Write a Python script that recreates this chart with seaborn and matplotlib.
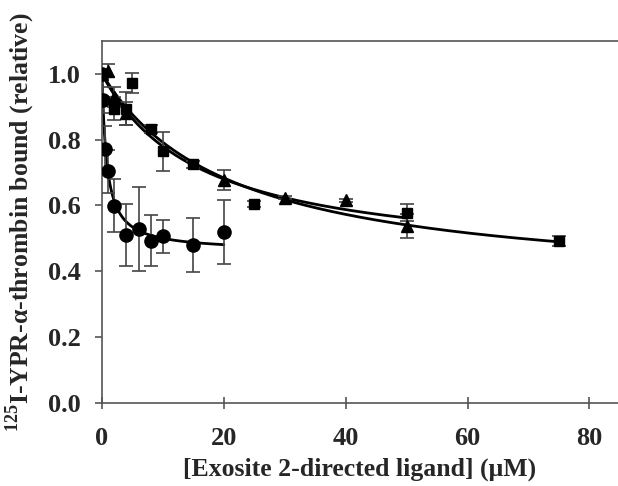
import matplotlib
matplotlib.use("Agg")
import matplotlib.pyplot as plt
import seaborn as sns
import numpy as np
import pandas as pd

# circles
circ_x = [0, 0.1, 0.5, 1, 2, 4, 6, 8, 10, 15, 20]
circ_y = [1.0, 0.92, 0.772, 0.703, 0.599, 0.51, 0.529, 0.493, 0.506, 0.48, 0.519]
circ_err = [0.0, 0.04, 0.07, 0.065, 0.08, 0.093, 0.127, 0.077, 0.05, 0.083, 0.098]

# squares
sq_x = [0, 2, 4, 5, 8, 10, 15, 25, 50, 75]
sq_y = [1.0, 0.894, 0.894, 0.972, 0.833, 0.764, 0.725, 0.604, 0.578, 0.492]
sq_err = [0.0, 0.036, 0.05, 0.03, 0.012, 0.058, 0.01, 0.01, 0.026, 0.015]

# triangles
tri_x = [0, 1, 2, 4, 20, 30, 40, 50]
tri_y = [1.0, 1.009, 0.93, 0.88, 0.678, 0.624, 0.615, 0.538]
tri_err = [0.0, 0.02, 0.03, 0.035, 0.03, 0.005, 0.005, 0.036]

# hyperbolic fit parameters (1 - Bmax*x/(Kd+x))
fits = {
    "circ": (0.54, 0.8, 20),
    "sq": (0.657, 21.5, 75),
    "tri": (0.581, 16.3, 50),
}

sns.set_style("ticks")
plt.rcParams["font.family"] = ["Liberation Serif", "DejaVu Serif"]
plt.rcParams["font.weight"] = "bold"
plt.rcParams["mathtext.fontset"] = "custom"
plt.rcParams["mathtext.rm"] = "Liberation Serif:bold"
plt.rcParams["mathtext.bf"] = "Liberation Serif:bold"

fig = plt.figure(figsize=(6.18, 4.86), dpi=100)
ax = fig.add_axes([0.165, 0.171, 0.835, 0.745])

for name, (bmax, kd, xmax) in fits.items():
    xx = np.linspace(0, xmax, 300)
    df = pd.DataFrame({"x": xx, "y": 1 - bmax * xx / (kd + xx)})
    sns.lineplot(data=df, x="x", y="y", ax=ax, color="black", lw=2, zorder=2)

ecol = "#444444"
for xs, ys, es, mk, ms in [(circ_x, circ_y, circ_err, "o", 9.5),
                           (sq_x, sq_y, sq_err, "s", 7),
                           (tri_x, tri_y, tri_err, "^", 8)]:
    ax.errorbar(xs, ys, yerr=es, fmt="none", ecolor=ecol, elinewidth=1.2,
                capsize=5, capthick=1.2, zorder=3)
    ax.plot(xs, ys, linestyle="none", marker=mk, markersize=ms,
            color="black", zorder=4)

ax.set_xlim(0, 84.7)
ax.set_ylim(0, 1.1)
ax.set_xticks([0, 20, 40, 60, 80])
ax.set_yticks([0.0, 0.2, 0.4, 0.6, 0.8, 1.0])
ax.set_yticklabels(["0.0", "0.2", "0.4", "0.6", "0.8", "1.0"])
ax.tick_params(axis="y", direction="out", length=5, width=1.2, color="#555555",
               labelsize=19, pad=10)
ax.tick_params(axis="x", direction="inout", length=8, width=1.2, color="#555555",
               labelsize=19, pad=13)
for side in ["left", "bottom", "top"]:
    ax.spines[side].set_color("#555555")
    ax.spines[side].set_linewidth(1.2)
ax.spines["right"].set_visible(False)

ax.set_xlabel("[Exosite 2-directed ligand] (μM)", fontsize=18.5, fontweight="bold", labelpad=6)
ax.set_ylabel("$^{125}$I-YPR-α-thrombin bound (relative)", fontsize=18.5,
              fontweight="bold", labelpad=8)

fig.savefig("out.png", dpi=100)
